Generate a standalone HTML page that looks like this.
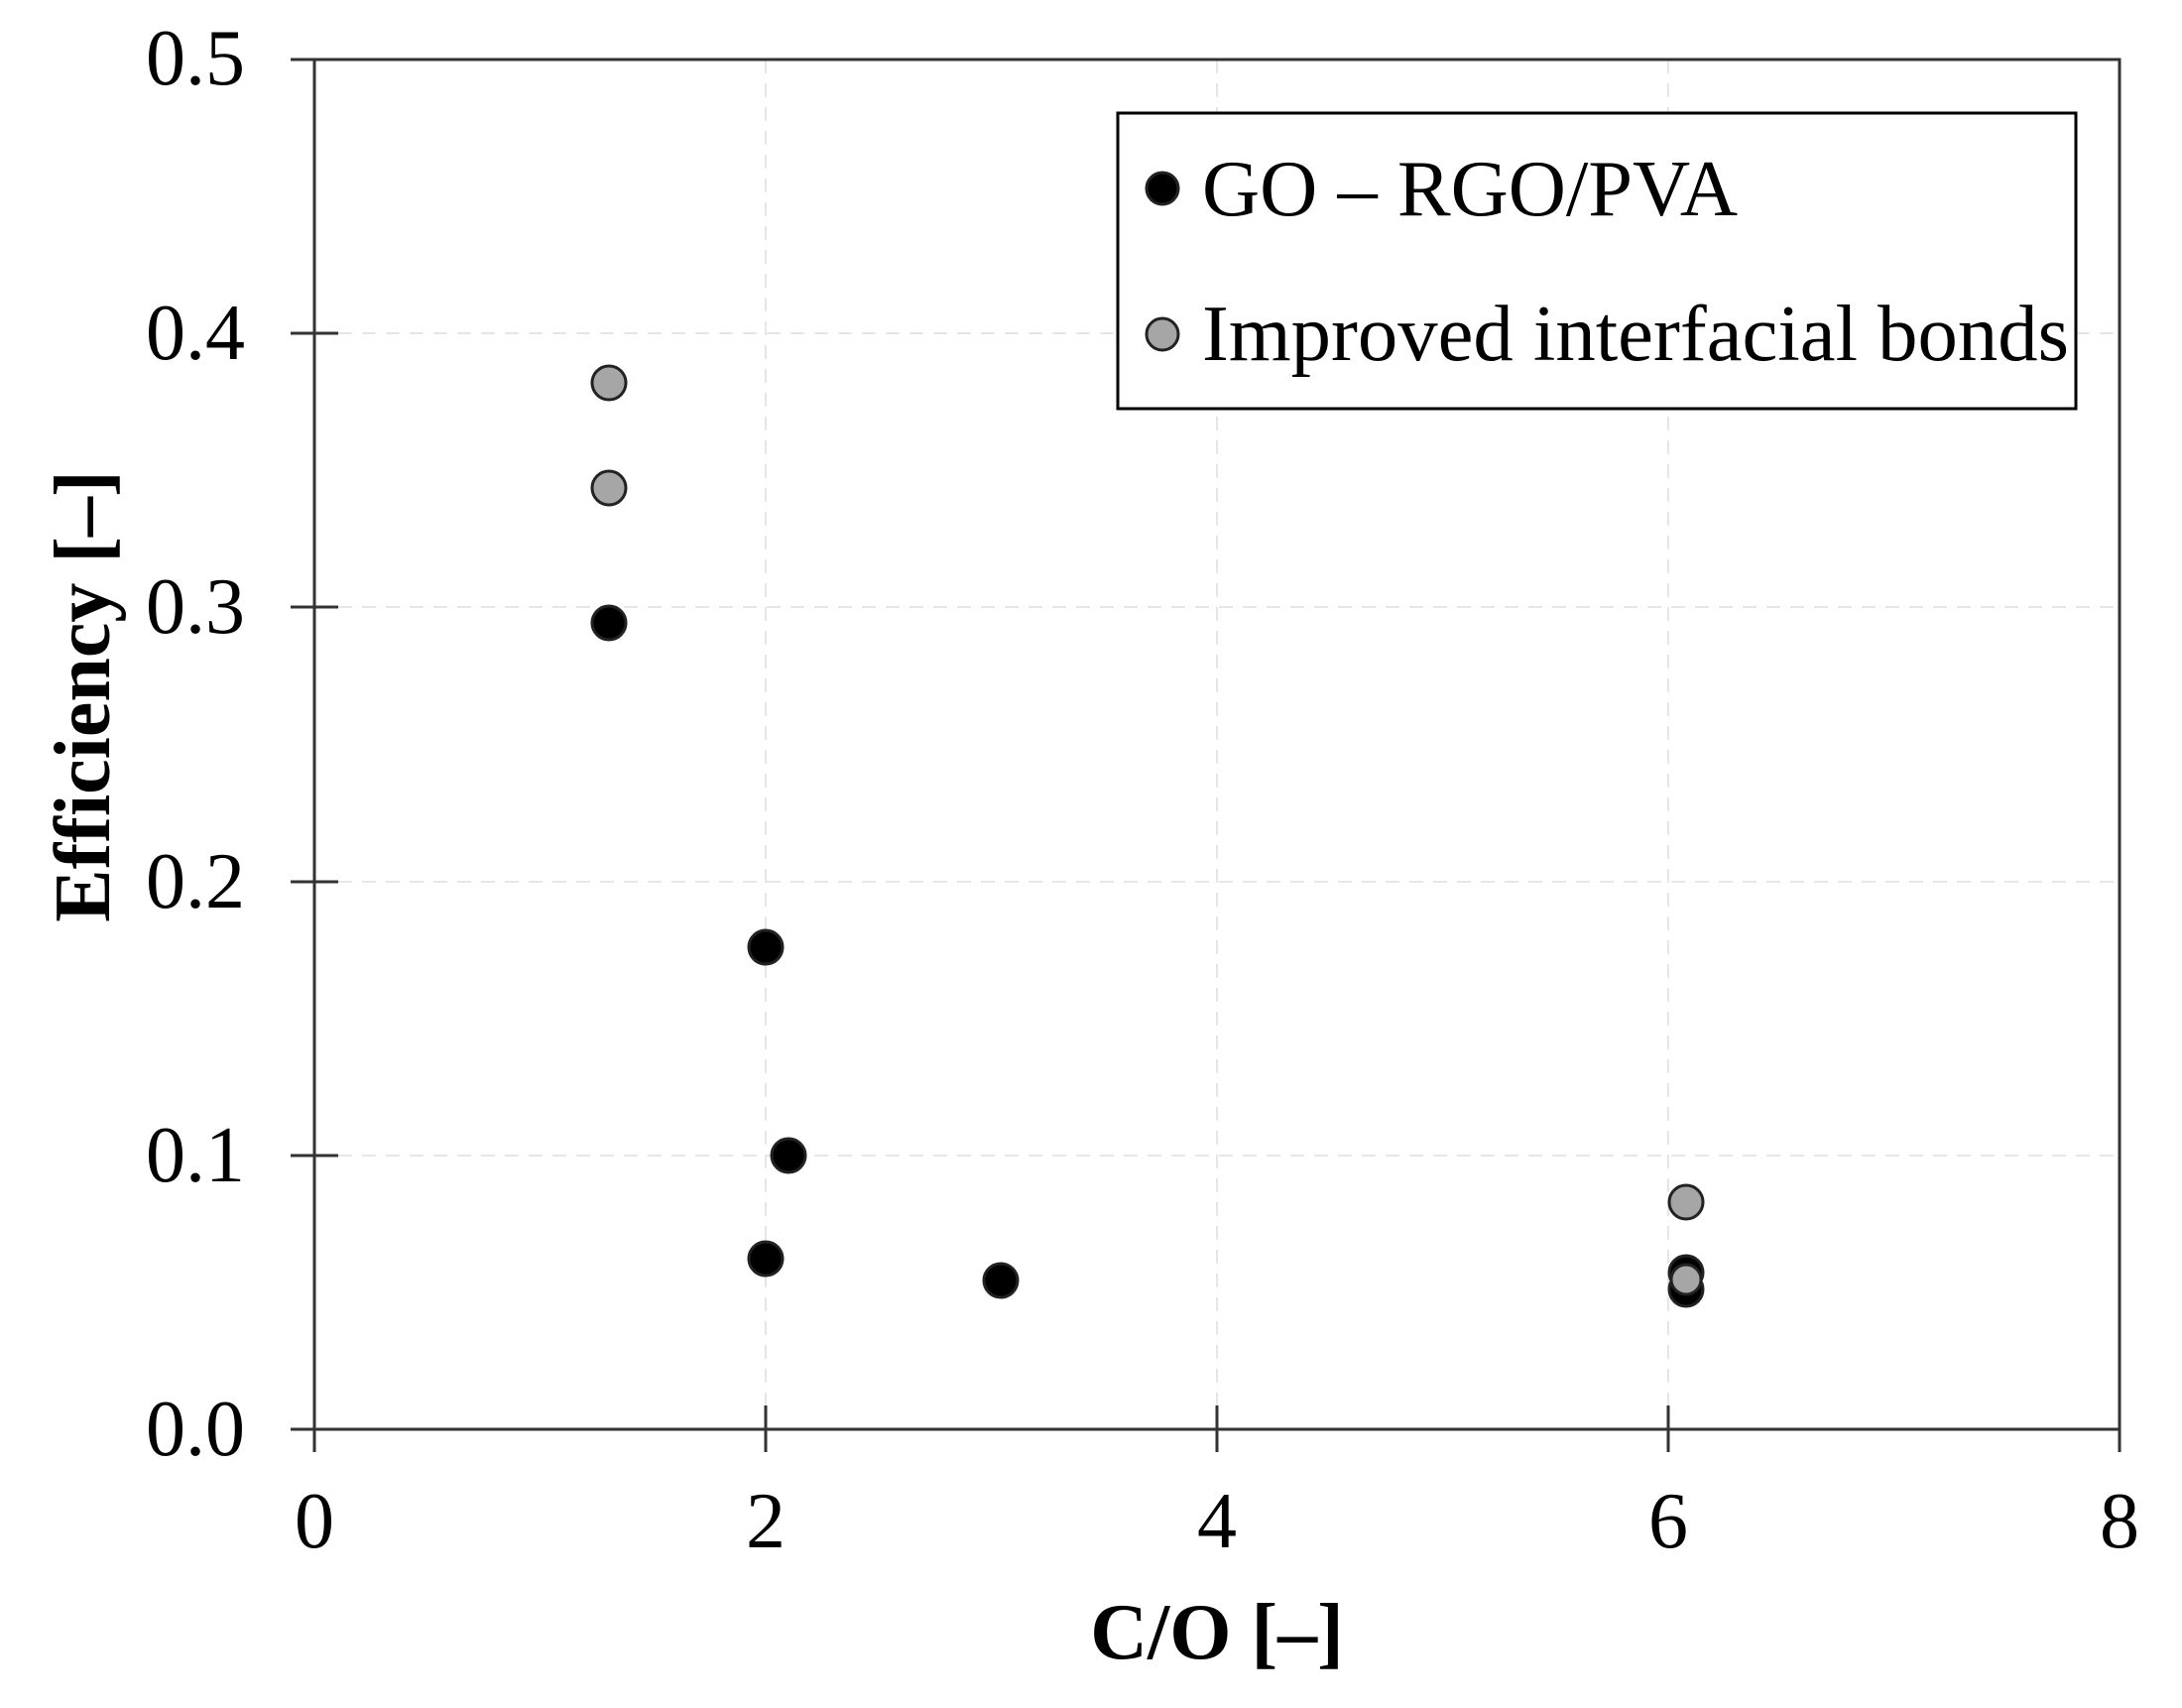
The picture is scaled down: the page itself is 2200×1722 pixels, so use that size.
<!DOCTYPE html>
<html><head><meta charset="utf-8"><style>body{margin:0;background:#fff}</style></head><body>
<svg width="2200" height="1717" xmlns="http://www.w3.org/2000/svg" font-family="Liberation Serif, serif">
<rect width="2200" height="1717" fill="#fff"/>
<g stroke="#e6e6e6" stroke-width="2" stroke-dasharray="14,10">
<line x1="317" y1="1165" x2="2137" y2="1165"/>
<line x1="317" y1="889" x2="2137" y2="889"/>
<line x1="317" y1="612" x2="2137" y2="612"/>
<line x1="317" y1="336" x2="2137" y2="336"/>
<line x1="772" y1="60" x2="772" y2="1441"/>
<line x1="1227" y1="60" x2="1227" y2="1441"/>
<line x1="1682" y1="60" x2="1682" y2="1441"/>
</g>
<g stroke="#333" stroke-width="3" fill="none">
<rect x="317" y="60" width="1820" height="1381"/>
<line x1="293" y1="60" x2="341" y2="60"/>
<line x1="293" y1="336" x2="341" y2="336"/>
<line x1="293" y1="612" x2="341" y2="612"/>
<line x1="293" y1="889" x2="341" y2="889"/>
<line x1="293" y1="1165" x2="341" y2="1165"/>
<line x1="293" y1="1441" x2="341" y2="1441"/>
<line x1="317" y1="1417" x2="317" y2="1464"/>
<line x1="772" y1="1417" x2="772" y2="1464"/>
<line x1="1227" y1="1417" x2="1227" y2="1464"/>
<line x1="1682" y1="1417" x2="1682" y2="1464"/>
<line x1="2137" y1="1417" x2="2137" y2="1464"/>
</g>
<g font-size="80" text-anchor="end" fill="#000">
<text x="247" y="85">0.5</text>
<text x="247" y="362">0.4</text>
<text x="247" y="638">0.3</text>
<text x="247" y="915">0.2</text>
<text x="247" y="1191">0.1</text>
<text x="247" y="1467">0.0</text>
</g>
<g font-size="80" text-anchor="middle" fill="#000">
<text x="317" y="1560">0</text>
<text x="772" y="1560">2</text>
<text x="1227" y="1560">4</text>
<text x="1682" y="1560">6</text>
<text x="2137" y="1560">8</text>
</g>
<text x="1227" y="1672" font-size="80" font-weight="bold" text-anchor="middle">C/O [–]</text>
<text transform="translate(110,702) rotate(-90)" font-size="80" font-weight="bold" text-anchor="middle">Efficiency [–]</text>
<g stroke="#222" stroke-width="3">
<circle cx="614" cy="628" r="17" fill="#000"/>
<circle cx="772" cy="955" r="17" fill="#000"/>
<circle cx="795" cy="1165" r="17" fill="#000"/>
<circle cx="772" cy="1269" r="17" fill="#000"/>
<circle cx="1009" cy="1291" r="17" fill="#000"/>
<circle cx="1700" cy="1283" r="17" fill="#000"/>
<circle cx="1700" cy="1300" r="17" fill="#000"/>
<circle cx="614" cy="386" r="17" fill="#a6a6a6"/>
<circle cx="614" cy="492" r="17" fill="#a6a6a6"/>
<circle cx="1700" cy="1212" r="17" fill="#a6a6a6"/>
<circle cx="1700" cy="1290" r="15" fill="#a6a6a6"/>
</g>
<rect x="1127" y="114" width="966" height="298" fill="#fff" stroke="#000" stroke-width="3"/>
<circle cx="1172" cy="190" r="16" fill="#000" stroke="#222" stroke-width="3"/>
<circle cx="1172" cy="337" r="16" fill="#a6a6a6" stroke="#222" stroke-width="3"/>
<g font-size="80" fill="#000">
<text x="1212" y="217" textLength="540" lengthAdjust="spacingAndGlyphs">GO – RGO/PVA</text>
<text x="1212" y="363" textLength="874" lengthAdjust="spacingAndGlyphs">Improved interfacial bonds</text>
</g>
</svg>
</body></html>
